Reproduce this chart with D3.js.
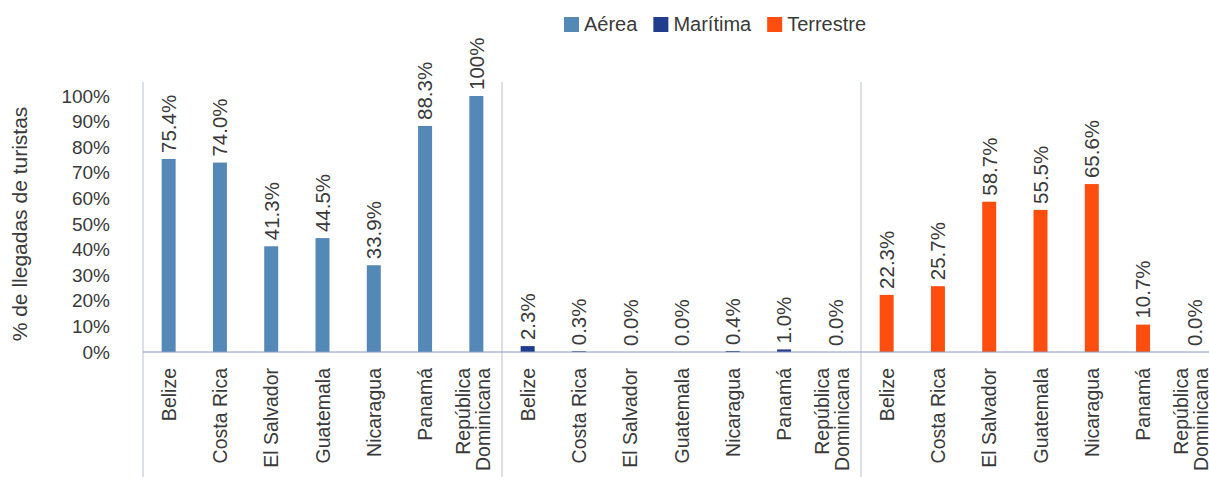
<!DOCTYPE html>
<html>
<head>
<meta charset="utf-8">
<script src="https://cdn.jsdelivr.net/npm/d3@7"></script>
<style>
  body { margin: 0; background: #fff; }
  svg text { font-family: "Liberation Sans", Arial, Helvetica, sans-serif; fill: #3a3a3a; }
</style>
</head>
<body>
<div id="chart"></div>
<script>
// data
var modes = ["Aérea", "Marítima", "Terrestre"];
var countries = ["Belize", "Costa Rica", "El Salvador", "Guatemala", "Nicaragua", "Panamá", "República Dominicana"];
var aerea = [75.4, 74.0, 41.3, 44.5, 33.9, 88.3, 100];
var maritima = [2.3, 0.3, 0.0, 0.0, 0.4, 1.0, 0.0];
var terrestre = [22.3, 25.7, 58.7, 55.5, 65.6, 10.7, 0.0];
var yTicks = [0, 10, 20, 30, 40, 50, 60, 70, 80, 90, 100];
var colors = ["#5488b6", "#1f3d8c", "#fd4e0f"];

var seriesValues = [aerea, maritima, terrestre];

var svgWidth = 1209;
var svgHeight = 477;

var margin = { top: 82, left: 143, axisY: 352 };
var groupWidth = 359;
var barWidth = 14;

var svg = d3.select("#chart")
            .append("svg")
            .attr("width", svgWidth)
            .attr("height", svgHeight);

var x0 = d3.scaleBand()
           .domain(modes)
           .range([margin.left, margin.left + groupWidth * modes.length]);

var x1 = d3.scalePoint()
           .domain(countries)
           .range([0, x0.bandwidth()])
           .padding(0.5);

var y = d3.scaleLinear()
          .domain([0, 100])
          .range([margin.axisY, 96]);

var color = d3.scaleOrdinal().domain(modes).range(colors);

// y tick labels (no axis line)
var leftAxis = d3.axisLeft(y)
                 .tickValues(yTicks)
                 .tickSize(0)
                 .tickPadding(0)
                 .tickFormat(d => d + "%");

var yAxisG = svg.append("g")
                .attr("transform", "translate(110,0)")
                .call(leftAxis);
yAxisG.select(".domain").remove();
yAxisG.selectAll("text")
      .attr("font-size", "19px")
      .style("font-family", null)
      .attr("fill", "#3a3a3a");

svg.append("text")
   .attr("transform", "translate(27,224) rotate(-90)")
   .attr("text-anchor", "middle")
   .attr("font-size", "21px")
   .text("% de llegadas de turistas");

// separators between groups
svg.selectAll(".sep")
   .data(modes.concat(["end"]))
   .enter()
   .append("line")
   .attr("class", "sep")
   .attr("x1", (d, i) => margin.left + i * x0.bandwidth())
   .attr("x2", (d, i) => margin.left + i * x0.bandwidth())
   .attr("y1", margin.top)
   .attr("y2", svgHeight)
   .attr("stroke", "#c4cad8")
   .attr("stroke-width", 1.2);

var rows = [];
modes.forEach(function(m, mi) {
    countries.forEach(function(c, ci) {
        rows.push({ mode: m, country: c, value: seriesValues[mi][ci] });
    });
});

var groups = svg.selectAll(".group")
                .data(modes)
                .enter()
                .append("g")
                .attr("class", "group")
                .attr("transform", d => `translate(${x0(d)},0)`);

groups.selectAll("rect")
      .data(m => rows.filter(r => r.mode === m))
      .enter()
      .append("rect")
      .attr("x", d => x1(d.country) - barWidth / 2)
      .attr("y", d => y(d.value))
      .attr("width", barWidth)
      .attr("height", d => y(0) - y(d.value))
      .attr("fill", d => color(d.mode));

// value labels
groups.selectAll(".val")
      .data(m => rows.filter(r => r.mode === m))
      .enter()
      .append("text")
      .attr("class", "val")
      .attr("transform", d => `translate(${x1(d.country)},${y(d.value) - 6}) rotate(-90)`)
      .attr("dy", "0.36em")
      .attr("font-size", "20.5px")
      .text(d => d.value === 100 ? "100%" : d.value.toFixed(1) + "%");

// category labels
var catLabels = groups.selectAll(".cat")
      .data(m => rows.filter(r => r.mode === m))
      .enter()
      .append("text")
      .attr("class", "cat")
      .attr("transform", d => `translate(${x1(d.country)},368) rotate(-90)`)
      .attr("text-anchor", "end")
      .attr("font-size", "19.5px");

catLabels.each(function(d) {
    var words = d.country === "República Dominicana" ? ["República", "Dominicana"] : [d.country];
    var t = d3.select(this);
    words.forEach(function(w, i) {
        var off = words.length === 1 ? 0 : (i - 0.5) * 20 - 3;
        t.append("tspan")
         .attr("x", 0)
         .attr("y", off)
         .attr("dy", "0.36em")
         .text(w);
    });
});

// x axis baseline
svg.append("line")
   .attr("x1", margin.left)
   .attr("x2", margin.left + groupWidth * modes.length)
   .attr("y1", y(0))
   .attr("y2", y(0))
   .attr("stroke", "#8a9ac0")
   .attr("stroke-width", 1.2);

// legend
var legend = svg.append("g").attr("transform", "translate(564,0)");
var lx = 0;
modes.forEach(function(m) {
    var item = legend.append("g").attr("transform", `translate(${lx},0)`);
    item.append("rect")
        .attr("x", 0)
        .attr("y", 17)
        .attr("width", 15)
        .attr("height", 15)
        .attr("fill", color(m));
    var t = item.append("text")
        .attr("x", 20)
        .attr("y", 31)
        .attr("font-size", "20px")
        .attr("fill", "#555")
        .text(m);
    lx += 20 + t.node().getComputedTextLength() + 16;
});
</script>
</body>
</html>
